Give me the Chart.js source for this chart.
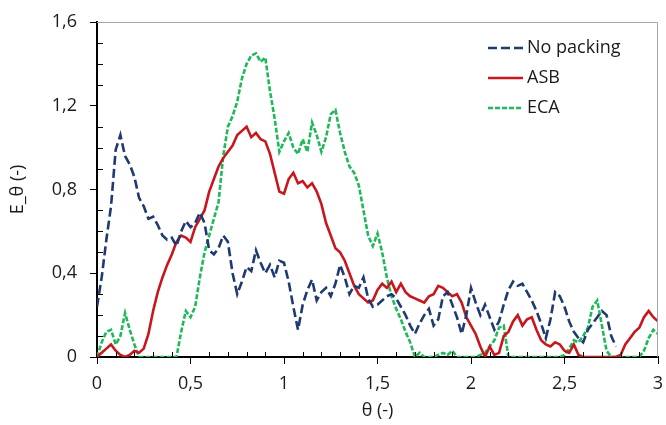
<!DOCTYPE html>
<html>
<head>
<meta charset="utf-8">
<script src="https://cdn.jsdelivr.net/npm/chart.js@4/dist/chart.umd.min.js"></script>
<style>
  html, body { margin: 0; padding: 0; background: #fff; }
  #wrap { width: 666px; height: 425px; }
</style>
</head>
<body>
<div id="wrap"><canvas id="rtd-chart" width="666" height="425"></canvas></div>
<script>
var theta = [
  0, 0.025, 0.05, 0.075, 0.1, 0.125, 0.15, 0.175, 0.2, 0.225,
  0.25, 0.275, 0.3, 0.325, 0.35, 0.375, 0.4, 0.425, 0.45, 0.475,
  0.5, 0.525, 0.55, 0.575, 0.6, 0.625, 0.65, 0.675, 0.7, 0.725,
  0.75, 0.775, 0.8, 0.825, 0.85, 0.875, 0.9, 0.925, 0.95, 0.975,
  1, 1.025, 1.05, 1.075, 1.1, 1.125, 1.15, 1.175, 1.2, 1.225,
  1.25, 1.275, 1.3, 1.325, 1.35, 1.375, 1.4, 1.425, 1.45, 1.475,
  1.5, 1.525, 1.55, 1.575, 1.6, 1.625, 1.65, 1.675, 1.7, 1.725,
  1.75, 1.775, 1.8, 1.825, 1.85, 1.875, 1.9, 1.925, 1.95, 1.975,
  2, 2.025, 2.05, 2.075, 2.1, 2.125, 2.15, 2.175, 2.2, 2.225,
  2.25, 2.275, 2.3, 2.325, 2.35, 2.375, 2.4, 2.425, 2.45, 2.475,
  2.5, 2.525, 2.55, 2.575, 2.6, 2.625, 2.65, 2.675, 2.7, 2.725,
  2.75, 2.775, 2.8, 2.825, 2.85, 2.875, 2.9, 2.925, 2.95, 2.975,
  3
];

var noPacking = [
  0.24, 0.38, 0.56, 0.72, 0.99, 1.06, 0.96, 0.92, 0.86, 0.76,
  0.72, 0.66, 0.67, 0.63, 0.58, 0.56, 0.57, 0.53, 0.60, 0.65,
  0.62, 0.64, 0.69, 0.64, 0.51, 0.49, 0.52, 0.58, 0.55, 0.40,
  0.30, 0.36, 0.43, 0.41, 0.51, 0.45, 0.40, 0.44, 0.38, 0.46,
  0.45, 0.36, 0.24, 0.13, 0.25, 0.32, 0.37, 0.27, 0.31, 0.33,
  0.29, 0.35, 0.44, 0.38, 0.30, 0.34, 0.33, 0.38, 0.28, 0.24,
  0.25, 0.27, 0.29, 0.30, 0.28, 0.24, 0.20, 0.15, 0.11, 0.16,
  0.20, 0.23, 0.15, 0.18, 0.29, 0.31, 0.25, 0.19, 0.11, 0.20,
  0.33, 0.26, 0.20, 0.25, 0.19, 0.13, 0.17, 0.25, 0.32, 0.36,
  0.34, 0.35, 0.31, 0.27, 0.22, 0.16, 0.09, 0.18, 0.31, 0.29,
  0.24, 0.17, 0.12, 0.09, 0.07, 0.13, 0.16, 0.19, 0.22, 0.20,
  0.10, 0.05, null, null, null, null, null, null, null, null,
  null
];

var asb = [
  0.00, 0.02, 0.04, 0.06, 0.03, 0.01, 0.00, 0.01, 0.03, 0.02,
  0.04, 0.11, 0.22, 0.31, 0.38, 0.44, 0.49, 0.55, 0.58, 0.57,
  0.55, 0.62, 0.66, 0.70, 0.79, 0.85, 0.91, 0.95, 0.98, 1.01,
  1.06, 1.08, 1.10, 1.05, 1.07, 1.04, 1.03, 0.97, 0.88, 0.79,
  0.78, 0.85, 0.88, 0.83, 0.84, 0.81, 0.83, 0.79, 0.73, 0.64,
  0.58, 0.52, 0.50, 0.46, 0.40, 0.34, 0.30, 0.28, 0.26, 0.27,
  0.32, 0.35, 0.33, 0.36, 0.31, 0.35, 0.31, 0.29, 0.28, 0.27,
  0.26, 0.29, 0.30, 0.34, 0.33, 0.31, 0.29, 0.30, 0.26, 0.19,
  0.15, 0.11, 0.05, 0.00, 0.05, 0.01, 0.02, 0.10, 0.12, 0.17,
  0.20, 0.15, 0.18, 0.19, 0.13, 0.08, 0.06, 0.05, 0.07, 0.06,
  0.03, 0.02, 0.06, 0.01, 0.00, 0.00, 0.00, 0.00, 0.00, 0.00,
  0.00, 0.00, 0.01, 0.06, 0.09, 0.12, 0.14, 0.19, 0.22, 0.19,
  0.17
];

var eca = [
  0.00, 0.07, 0.12, 0.13, 0.06, 0.10, 0.21, 0.13, 0.06, 0.00,
  0.00, 0.00, 0.00, 0.00, 0.00, 0.00, 0.00, 0.00, 0.12, 0.22,
  0.19, 0.24, 0.38, 0.50, 0.58, 0.66, 0.74, 0.96, 1.10, 1.15,
  1.22, 1.33, 1.40, 1.44, 1.45, 1.41, 1.43, 1.27, 1.14, 0.98,
  1.03, 1.07, 1.00, 0.97, 1.04, 0.98, 1.12, 1.06, 0.98, 1.05,
  1.16, 1.18, 1.07, 0.98, 0.91, 0.88, 0.82, 0.70, 0.58, 0.53,
  0.59, 0.50, 0.38, 0.29, 0.23, 0.18, 0.12, 0.07, 0.00, 0.02,
  0.00, 0.00, 0.00, 0.01, 0.02, 0.01, 0.03, 0.00, 0.00, 0.00,
  0.00, 0.00, 0.01, 0.02, 0.05, 0.08, 0.14, 0.15, 0.00, 0.00,
  0.00, 0.00, 0.00, 0.00, 0.00, 0.00, 0.00, 0.00, 0.00, 0.00,
  0.01, 0.04, 0.08, 0.07, 0.10, 0.14, 0.24, 0.27, 0.15, 0.03,
  0.00, 0.00, 0.00, 0.00, 0.00, 0.00, 0.00, 0.03, 0.09, 0.13,
  0.11
];

var xTicks = [0, 0.5, 1, 1.5, 2, 2.5, 3];
var yTicks = [0, 0.4, 0.8, 1.2, 1.6];

function points(values) {
  return theta.map(function(t, i) {
    return {x: t, y: values[i]};
  });
}

function comma(v) {
  return String(Math.round(v * 10) / 10).replace('.', ',');
}

// keep the plot box where the layout padding puts it
function noEdgePadding(s) {
  s.paddingTop = 0;
  s.paddingBottom = 0;
  s.paddingLeft = 0;
  s.paddingRight = 0;
}

var FONT = "'Open Sans', 'Noto Sans', sans-serif";
var TEXT = '#1a1a1a';

// frame, minor ticks and the legend drawn inside the plot
var extras = {
  id: 'extras',
  afterDraw: function(chart) {
    var c = chart.ctx, a = chart.chartArea;
    var xs = chart.scales.x, ys = chart.scales.y;
    c.save();
    c.strokeStyle = '#a6a6a6';
    c.lineWidth = 1;
    c.beginPath();
    c.moveTo(a.left, a.top + 0.5);
    c.lineTo(a.right - 0.5, a.top + 0.5);
    c.lineTo(a.right - 0.5, a.bottom);
    c.stroke();

    c.strokeStyle = '#000';
    c.lineWidth = 1;
    c.beginPath();
    for (var i = 1; i < 30; i++) {
      if (i % 5 === 0) continue;
      var px = Math.round(xs.getPixelForValue(i / 10)) + 0.5;
      c.moveTo(px, a.bottom);
      c.lineTo(px, a.bottom - 5);
    }
    for (var j = 1; j < 16; j++) {
      if (j % 4 === 0) continue;
      var py = Math.round(ys.getPixelForValue(j / 10)) + 0.5;
      c.moveTo(a.left, py);
      c.lineTo(a.left + 6, py);
    }
    c.stroke();

    c.font = '18px ' + FONT;
    c.textBaseline = 'middle';
    c.fillStyle = TEXT;
    chart.data.datasets.forEach(function(ds, k) {
      var y = a.top + 26 + k * 30;
      var x0 = a.right - 170;
      c.strokeStyle = ds.borderColor;
      c.lineWidth = 2.5;
      c.setLineDash(ds.borderDash || []);
      c.beginPath();
      c.moveTo(x0, y);
      c.lineTo(x0 + 35, y);
      c.stroke();
      c.setLineDash([]);
      c.fillText(ds.label, x0 + 39, y);
    });
    c.restore();
  }
};

var ctx = document.getElementById('rtd-chart');

var rtdChart = new Chart(ctx, {
  type: 'line',
  data: {
    datasets: [{
      label: 'No packing',
      data: points(noPacking),
      borderColor: '#1f3a70',
      borderWidth: 2.6,
      borderDash: [9, 4]
    }, {
      label: 'ASB',
      data: points(asb),
      borderColor: '#c8161d',
      borderWidth: 2.6
    }, {
      label: 'ECA',
      data: points(eca),
      borderColor: '#1fb85a',
      borderWidth: 2.6,
      borderDash: [5, 2]
    }]
  },
  options: {
    responsive: false,
    animation: false,
    layout: { padding: { top: 22, right: 8, left: 0, bottom: 0 } },
    elements: {
      point: { radius: 0 },
      line: { tension: 0, fill: false }
    },
    plugins: {
      legend: { display: false },
      tooltip: { enabled: false }
    },
    scales: {
      x: {
        type: 'linear',
        min: 0,
        max: 3,
        afterBuildTicks: function(s) {
          s.ticks = xTicks.map(function(v) { return {value: v}; });
        },
        afterFit: function(s) {
          s.height = 68;
          noEdgePadding(s);
        },
        border: { color: '#000', width: 2 },
        grid: { drawOnChartArea: false, color: '#000', tickLength: 7 },
        ticks: {
          color: TEXT,
          font: { family: FONT, size: 18 },
          padding: 9,
          maxRotation: 0,
          callback: function(v) { return comma(v); }
        },
        title: {
          display: true,
          text: 'θ (-)',
          color: TEXT,
          font: { family: FONT, size: 18 },
          padding: { top: 0, bottom: 3 }
        }
      },
      y: {
        min: 0,
        max: 1.6,
        afterBuildTicks: function(s) {
          s.ticks = yTicks.map(function(v) { return {value: v}; });
        },
        afterFit: function(s) {
          s.width = 97;
          noEdgePadding(s);
        },
        border: { color: '#000', width: 2 },
        grid: { drawOnChartArea: false, color: '#000', tickLength: 7 },
        ticks: {
          color: TEXT,
          font: { family: FONT, size: 18 },
          padding: 13,
          callback: function(v) { return comma(v); }
        },
        title: {
          display: true,
          text: 'E_θ (-)',
          color: TEXT,
          font: { family: FONT, size: 18 },
          padding: { top: 7, bottom: 0 }
        }
      }
    }
  },
  plugins: [extras]
});
</script>
</body>
</html>
